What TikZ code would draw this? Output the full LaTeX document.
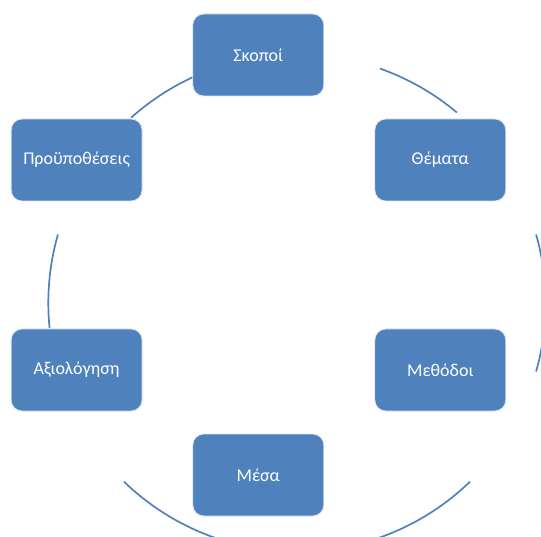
\documentclass[tikz,border=0pt]{standalone}
\usepackage{fontspec}
\setmainfont{Carlito}
\definecolor{officeblue}{HTML}{4F81BD}
\tikzset{
  box/.style={rounded corners=11pt, fill=officeblue, draw=white!80!officeblue, line width=0.8pt,
    minimum width=131pt, minimum height=82pt, inner sep=0pt, text=white,
    font=\fontsize{18}{21}\selectfont},
  conn/.style={draw=officeblue, line width=1.7pt}
}
\begin{document}
\begin{tikzpicture}[x=1pt,y=1pt]
\useasboundingbox (0,0) rectangle (541,536);
\coordinate (C) at (297,233);
\def\R{248.7}
\begin{scope}
\clip (0,0) rectangle (541,536);
\draw[conn] ([shift={(114.8:\R)}]C) arc[start angle=114.8, end angle=131.8, radius=\R];
\draw[conn] ([shift={(70.5:\R)}]C) arc[start angle=70.5, end angle=50.0, radius=\R];
\draw[conn] ([shift={(16:\R)}]C) arc[start angle=16, end angle=-16, radius=\R];
\draw[conn] ([shift={(164:\R)}]C) arc[start angle=164, end angle=185.8, radius=\R];
\draw[conn] ([shift={(225.9:\R)}]C) arc[start angle=225.9, end angle=258, radius=\R];
\draw[conn] ([shift={(314.1:\R)}]C) arc[start angle=314.1, end angle=282, radius=\R];
\end{scope}
\node[box] (skopoi) at (258.3,481) {Σκοποί};
\node[box] (themata) at (440.3,376) {Θέματα};
\node[box] (methodoi) at (440.3,166) {Μεθόδοι};
\node[box] (mesa) at (258.3,61) {Μέσα};
\node[box] (axiologisi) at (76.6,166) {Αξιολόγηση};
\node[box] (proypotheseis) at (76.6,376) {Προϋποθέσεις};
\end{tikzpicture}
\end{document}
